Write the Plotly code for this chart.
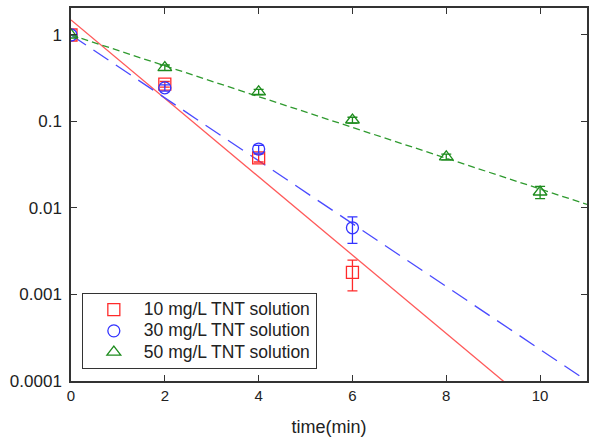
import math
import plotly.graph_objects as go

# Sampling times (min) and normalised TNT concentration C/C0
t_10 = [0, 2, 4, 6]
c_10 = [1.0, 0.27, 0.038, 0.0018]
e_10 = [0.0, 0.02, 0.004, 0.0007]

t_30 = [0, 2, 4, 6]
c_30 = [1.0, 0.245, 0.048, 0.0059]
e_30 = [0.0, 0.02, 0.005, 0.002]

t_50 = [0, 2, 4, 6, 8, 10]
c_50 = [1.0, 0.42, 0.22, 0.104, 0.039, 0.0153]
e_50 = [0.0, 0.03, 0.015, 0.008, 0.003, 0.0025]

# First-order fit: C/C0 = A * exp(-k t)
fit_A = [1.49, 1.0, 1.0]
fit_k = [1.043, 0.837, 0.41]
fit_t = [0, 11]

names = ["10 mg/L TNT solution", "30 mg/L TNT solution", "50 mg/L TNT solution"]
colors = ["#ff2a2a", "#3333ff", "#1e8c1e"]
line_colors = ["#ff5a5a", "#4a4aff", "#2f9a2f"]
symbols = ["square-open", "circle-open", "triangle-up-open"]
sizes = [12, 12, 12]
dashes = ["solid", "18px,9px", "7px,4px"]

FONT = "Liberation Sans, Arial, sans-serif"

fig = go.Figure()

series = [(t_10, c_10, e_10), (t_30, c_30, e_30), (t_50, c_50, e_50)]

# fitted decay lines (straight on the log axis)
for i, (A, k) in enumerate(zip(fit_A, fit_k)):
    fig.add_trace(go.Scatter(
        x=fit_t, y=[A * math.exp(-k * t) for t in fit_t],
        mode="lines", showlegend=False, hoverinfo="skip",
        line=dict(color=line_colors[i], width=1.3, dash=dashes[i]),
    ))

# measured points with error bars
for i, (tx, cy, ey) in enumerate(series):
    fig.add_trace(go.Scatter(
        x=tx, y=cy, mode="markers",
        name='<span style="font-size:17.5px">%s</span>' % names[i],
        marker=dict(symbol=symbols[i], size=sizes[i], color=colors[i],
                    line=dict(width=1.3, color=colors[i])),
        error_y=dict(type="data", array=ey, visible=True,
                     color=colors[i], thickness=1.3, width=5),
    ))

fig.update_layout(
    width=589, height=441,
    margin=dict(l=71, r=0, t=8, b=60),
    paper_bgcolor="white", plot_bgcolor="white",
    font=dict(family=FONT, color="#222"),
    legend=dict(
        x=0.021, y=0.032, xanchor="left", yanchor="bottom",
        bgcolor="white", bordercolor="#333", borderwidth=1,
        font=dict(size=14, color="#222", family=FONT),
        itemwidth=50, indentation=1,
        tracegroupgap=0,
    ),
    xaxis=dict(
        range=[0, 11], tickvals=[0, 2, 4, 6, 8, 10],
        ticks="inside", ticklen=6, tickcolor="#333", tickwidth=1.3,
        showline=True, linecolor="#333", linewidth=1.5, mirror="ticks",
        showgrid=False, zeroline=False,
        tickfont=dict(size=15, family=FONT, color="#222"),
        title=dict(text="time(min)", font=dict(size=18, color="#222", family=FONT), standoff=18),
    ),
    yaxis=dict(
        type="log", range=[-4, 0.312],
        tickvals=[0.0001, 0.001, 0.01, 0.1, 1],
        ticktext=["0.0001", "0.001", "0.01", "0.1", "1"],
        ticks="inside", ticklen=6, tickcolor="#333", tickwidth=1.3,
        showline=True, linecolor="#333", linewidth=1.5, mirror="ticks",
        showgrid=False, zeroline=False, ticklabelstandoff=4,
        tickfont=dict(size=17, color="#222", family=FONT),
    ),
)

fig.write_html("out.html")
